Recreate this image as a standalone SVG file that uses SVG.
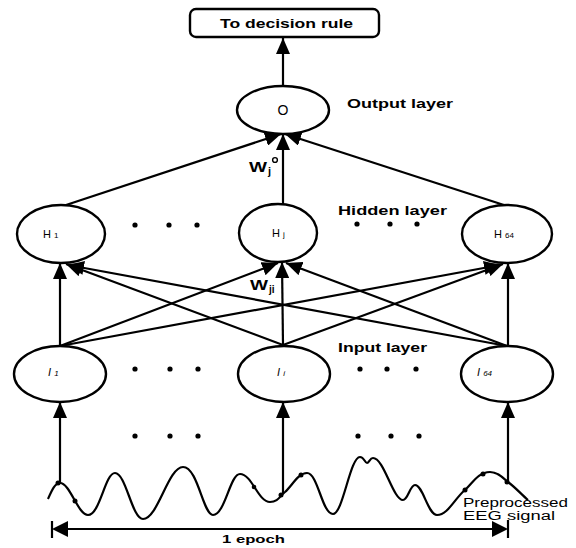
<svg xmlns="http://www.w3.org/2000/svg" width="576" height="548" viewBox="0 0 576 548">
<style>
.node{fill:#fff;stroke:#000;stroke-width:2.4}
.lbl{font-family:"Liberation Sans",Arial,sans-serif;font-weight:bold;font-size:12px;fill:#000}
.nl{font-family:"Liberation Sans",Arial,sans-serif;font-size:11px;fill:#000}
.sub{font-size:8px}
.it{font-style:italic}
.con{stroke:#000;stroke-width:2.2;fill:none}
.dot{fill:#000}
</style>
<defs>
<marker id="ah" markerUnits="userSpaceOnUse" markerWidth="18" markerHeight="14" refX="16" refY="7" orient="auto">
<path d="M0,0 L16,7 L0,14 z" fill="#000"/>
</marker>
</defs>
<rect width="576" height="548" fill="#fff"/>

<g id="connectors">
<line class="con" x1="283" y1="86" x2="283" y2="38" marker-end="url(#ah)"/>
<line class="con" x1="63" y1="206" x2="281" y2="134" marker-end="url(#ah)"/>
<line class="con" x1="283" y1="205" x2="283" y2="134" marker-end="url(#ah)"/>
<line class="con" x1="507" y1="206" x2="285" y2="134" marker-end="url(#ah)"/>
<line class="con" x1="60" y1="346" x2="60" y2="263" marker-end="url(#ah)"/>
<line class="con" x1="283" y1="345" x2="66" y2="264" marker-end="url(#ah)"/>
<line class="con" x1="507" y1="346" x2="68" y2="265" marker-end="url(#ah)"/>
<line class="con" x1="60" y1="346" x2="278" y2="263" marker-end="url(#ah)"/>
<line class="con" x1="283" y1="345" x2="282" y2="262" marker-end="url(#ah)"/>
<line class="con" x1="507" y1="346" x2="286" y2="263" marker-end="url(#ah)"/>
<line class="con" x1="60" y1="346" x2="500" y2="265" marker-end="url(#ah)"/>
<line class="con" x1="283" y1="345" x2="503" y2="264" marker-end="url(#ah)"/>
<line class="con" x1="508" y1="346" x2="508" y2="263" marker-end="url(#ah)"/>
<line class="con" x1="60" y1="483" x2="60" y2="402" marker-end="url(#ah)"/>
<line class="con" x1="283" y1="493" x2="283" y2="402" marker-end="url(#ah)"/>
<line class="con" x1="508" y1="481" x2="508" y2="402" marker-end="url(#ah)"/>
<line class="con" x1="68" y1="529" x2="492" y2="529"/>
<path d="M52,529 L68,521 L68,537 z" fill="#000"/>
<path d="M508,529 L492,521 L492,537 z" fill="#000"/>
<line class="con" x1="52" y1="521" x2="52" y2="538"/>
<line class="con" x1="508" y1="520" x2="508" y2="538"/>
</g>

<g id="decision">
<rect class="node" x="190" y="9" width="189" height="28" rx="6"/>
<text class="lbl" x="220" y="28" textLength="133" lengthAdjust="spacingAndGlyphs">To decision rule</text>
</g>

<g id="O">
<ellipse class="node" cx="283" cy="110" rx="46" ry="24"/>
<text class="nl" x="283" y="115" text-anchor="middle" style="font-size:14px">O</text>
</g>
<text class="lbl" x="347" y="108" textLength="106" lengthAdjust="spacingAndGlyphs">Output layer</text>

<g id="H1">
<ellipse class="node" cx="61" cy="234" rx="44" ry="29"/>
<text class="nl" x="43" y="238">H <tspan class="sub">1</tspan></text>
</g>
<g id="Hj">
<ellipse class="node" cx="278" cy="233" rx="39" ry="29"/>
<text class="nl" x="272" y="237">H <tspan class="sub">j</tspan></text>
</g>
<g id="H64">
<ellipse class="node" cx="507" cy="234" rx="45" ry="29"/>
<text class="nl" x="494" y="238">H <tspan class="sub">64</tspan></text>
</g>
<text class="lbl" x="338" y="215" textLength="109" lengthAdjust="spacingAndGlyphs">Hidden layer</text>

<g id="I1">
<ellipse class="node" cx="60" cy="374" rx="46" ry="28"/>
<text class="nl it" x="48" y="376">I <tspan class="sub">1</tspan></text>
</g>
<g id="Ii">
<ellipse class="node" cx="284" cy="374" rx="46" ry="28"/>
<text class="nl it" x="277" y="376">I <tspan class="sub">i</tspan></text>
</g>
<g id="I64">
<ellipse class="node" cx="507" cy="374" rx="46" ry="28"/>
<text class="nl it" x="477" y="376">I <tspan class="sub">64</tspan></text>
</g>
<text class="lbl" x="338" y="352" textLength="89" lengthAdjust="spacingAndGlyphs">Input layer</text>

<g id="dots">
<circle class="dot" cx="135" cy="225" r="2.6"/>
<circle class="dot" cx="169" cy="225" r="2.6"/>
<circle class="dot" cx="197" cy="225" r="2.6"/>
<circle class="dot" cx="357" cy="224" r="2.6"/>
<circle class="dot" cx="390" cy="224" r="2.6"/>
<circle class="dot" cx="417" cy="224" r="2.6"/>
<circle class="dot" cx="135" cy="369" r="2.6"/>
<circle class="dot" cx="170" cy="369" r="2.6"/>
<circle class="dot" cx="198" cy="369" r="2.6"/>
<circle class="dot" cx="360" cy="369" r="2.6"/>
<circle class="dot" cx="387" cy="369" r="2.6"/>
<circle class="dot" cx="416" cy="369" r="2.6"/>
<circle class="dot" cx="135" cy="436" r="2.6"/>
<circle class="dot" cx="170" cy="436" r="2.6"/>
<circle class="dot" cx="198" cy="436" r="2.6"/>
<circle class="dot" cx="358" cy="436" r="2.6"/>
<circle class="dot" cx="391" cy="436" r="2.6"/>
<circle class="dot" cx="419" cy="436" r="2.6"/>
</g>

<g id="weights">
<text class="lbl" x="249" y="172" style="font-size:14px" textLength="18" lengthAdjust="spacingAndGlyphs">W</text>
<text class="lbl" x="268" y="175" style="font-size:11px">j</text>
<circle cx="275" cy="160" r="2.4" fill="none" stroke="#000" stroke-width="1.4"/>
<text class="lbl" x="250" y="290" style="font-size:14px" textLength="18" lengthAdjust="spacingAndGlyphs">W</text>
<text class="lbl" x="269" y="293" style="font-size:10px">ji</text>
</g>

<g id="signal">
<path class="con" d="M48,499 C52,490 55,483 60,483 C70,483 78,515 88,515 C100,515 105,473 115,473 C126,473 132,519 143,519 C158,519 168,467 183,467 C198,467 203,515 213,515 C225,515 230,474 240,474 C252,474 258,502 270,502 C278,502 280,496 285,492 C292,486 298,473 307,473 C318,473 322,514 333,514 C343,514 350,457 360,457 C364,457 365,463 367,463 C369,463 370,458 373,458 C384,458 393,500 403,500 C408,500 410,485 415,485 C423,485 428,515 437,515 C448,515 455,498 465,490 C472,484 478,472 490,472 C498,472 503,478 508,482 C516,488 522,495 528,500"/>
<circle class="dot" cx="58" cy="483" r="2.5"/>
<circle class="dot" cx="75" cy="501" r="2.5"/>
<circle class="dot" cx="254" cy="487" r="2.3"/>
<circle class="dot" cx="281" cy="495" r="2.5"/>
<circle class="dot" cx="301" cy="475" r="2.5"/>
<circle class="dot" cx="465" cy="490" r="2.5"/>
<circle class="dot" cx="483" cy="474" r="2.5"/>
<circle class="dot" cx="507" cy="482" r="2.5"/>
</g>

<text class="nl" x="463" y="507" style="font-size:12px" textLength="105" lengthAdjust="spacingAndGlyphs">Preprocessed</text>
<text class="nl" x="463" y="520" style="font-size:12px" textLength="92" lengthAdjust="spacingAndGlyphs">EEG  signal</text>
<text class="lbl" x="222" y="543" style="font-size:11px" textLength="63" lengthAdjust="spacingAndGlyphs">1 epoch</text>
</svg>
